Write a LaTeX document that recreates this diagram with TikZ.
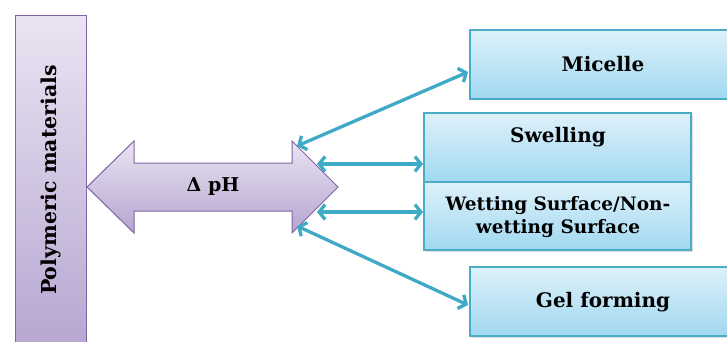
\documentclass[tikz,border=0pt]{standalone}
\usepackage{fontspec}
\setmainfont{DejaVu Serif}
\usetikzlibrary{arrows.meta,shadows}
\definecolor{bluetop}{RGB}{222,241,250}
\definecolor{bluebot}{RGB}{160,216,240}
\definecolor{blueline}{RGB}{75,172,198}
\definecolor{conncol}{RGB}{62,170,198}
\definecolor{purtop}{RGB}{234,228,242}
\definecolor{purbot}{RGB}{181,164,208}
\definecolor{purline}{RGB}{128,100,162}
\tikzset{
  bluebox/.style={draw=blueline, line width=1.3pt, top color=bluetop, bottom color=bluebot,
    rectangle, inner sep=0pt,
    drop shadow={opacity=0.25, shadow xshift=1.5pt, shadow yshift=-1.5pt}},
  purbox/.style={draw=purline, line width=1pt, top color=purtop, bottom color=purbot},
  conn/.style={draw=conncol, line width=3.3pt,
    {Straight Barb[length=6pt,width=15pt]}-{Straight Barb[length=6pt,width=15pt]}},
  bigtxt/.style={font=\bfseries\fontsize{20}{24}\selectfont, text=black},
  polytxt/.style={font=\bfseries\fontsize{20.5}{24}\selectfont, text=black},
  phtxt/.style={font=\bfseries\fontsize{19}{24}\selectfont, text=black},
  midtxt/.style={font=\bfseries\fontsize{18.5}{23}\selectfont, text=black, align=center}
}
\begin{document}
\begin{tikzpicture}[x=1pt,y=-1pt]
\clip (0,0) rectangle (727,342);
\fill[white] (0,0) rectangle (727,342);
% left tall box
\draw[purbox] (15,16) rectangle (86,360);
\node[polytxt, rotate=90] (poly) at (51,180) {Polymeric materials};
% double arrow
\path[purbox] (87,187) -- (134,141) -- (134,163) -- (292,163) -- (292,141) -- (338,187)
  -- (292,233) -- (292,211) -- (134,211) -- (134,233) -- cycle;
\node[phtxt] (ph) at (213,187) {Δ pH};
% right boxes
\node[bluebox, minimum width=266pt, minimum height=69pt] (micelle) at (603,64.5) {};
\node[bigtxt] (micelletxt) at (603,64) {Micelle};
\node[bluebox, minimum width=267pt, minimum height=69pt] (swell) at (557.5,147.5) {};
\node[bigtxt] (swelltxt) at (558,137) {Swelling};
\node[bluebox, minimum width=267pt, minimum height=68pt] (wet) at (557.5,216) {};
\node[midtxt] (wettxt) at (558,217) {Wetting Surface/Non-\\wetting Surface};
\node[bluebox, minimum width=266pt, minimum height=69pt] (gel) at (603,301.5) {};
\node[bigtxt] (geltxt) at (603,302) {Gel forming};
% connector end points
\coordinate (p1) at (297,146);
\coordinate (p2) at (317,164);
\coordinate (p3) at (317,212);
\coordinate (p4) at (297,226);
\coordinate (m1) at (468,72);
\coordinate (s1) at (423,164);
\coordinate (w1) at (423,212);
\coordinate (g1) at (468,305);
\draw[conn] (p1) -- (m1);
\draw[conn] (p2) -- (s1);
\draw[conn] (p3) -- (w1);
\draw[conn] (p4) -- (g1);
\end{tikzpicture}
\end{document}
